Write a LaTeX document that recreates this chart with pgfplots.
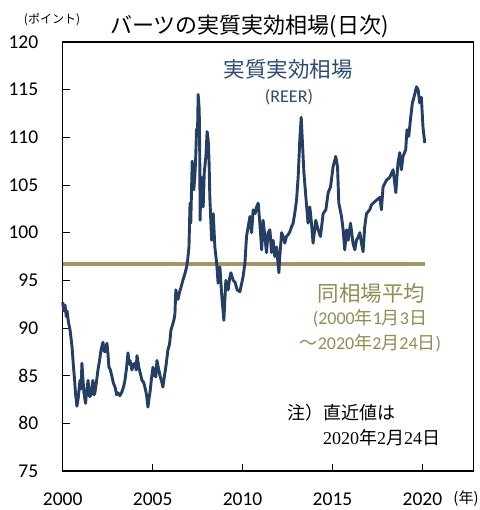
\documentclass[border=0pt]{standalone}
\usepackage{fontspec}
\setmainfont{Carlito}
\newfontfamily\jp{Noto Sans CJK JP}
\newfontfamily\serifnum{Liberation Serif}
\usepackage{pgfplots}
\pgfplotsset{compat=1.18}
\definecolor{navyline}{HTML}{243F63}
\definecolor{navytext}{HTML}{2E4A72}
\definecolor{oliveline}{HTML}{A0966A}
\definecolor{olivetext}{HTML}{948A54}
\newcommand{\fs}[1]{\fontsize{#1bp}{#1bp}\selectfont}
\newcommand{\J}[1]{{\jp #1}}
\begin{document}
\begin{tikzpicture}
\begin{axis}[
  scale only axis, width=411bp, height=429bp,
  xmin=2000, xmax=2022.85, ymin=75, ymax=120,
  xtick={2000,2005,2010,2015,2020},
  ytick={75,80,85,90,95,100,105,110,115,120},
  xtick pos=bottom, ytick pos=left, tick align=inside,
  major tick length=7bp,
  axis line style={line width=1.2bp},
  tick style={line width=1bp, black},
  /pgf/number format/assume math mode=true,
  /pgf/number format/1000 sep={},
  ticklabel style={font=\fs{19.5}},
  xticklabel style={anchor=center, yshift=-28bp},
  yticklabel style={anchor=east, xshift=-21bp},
  clip=false,
]
\addplot[oliveline, line width=3.5bp] coordinates {(2000,96.7) (2020.15,96.7)};
\addplot[navyline, line width=2.9bp, line join=round] coordinates {
(2000.00,92.7)(2000.06,91.8)(2000.13,92.4)(2000.20,91.2)(2000.24,91.8)(2000.32,90.6)(2000.41,89.8)(2000.52,88.0)(2000.60,85.9)(2000.66,84.6)(2000.71,83.2)(2000.79,81.8)(2000.86,82.6)(2000.96,84.5)(2001.02,83.6)(2001.07,86.3)(2001.12,84.8)(2001.18,83.2)(2001.27,82.1)(2001.34,83.4)(2001.41,84.5)(2001.50,82.8)(2001.57,83.0)(2001.68,84.5)(2001.74,83.0)(2001.79,83.2)(2001.88,84.4)(2001.96,85.6)(2002.05,86.6)(2002.13,87.7)(2002.24,88.5)(2002.30,87.6)(2002.35,87.5)(2002.46,88.4)(2002.52,87.2)(2002.57,85.9)(2002.65,85.6)(2002.74,84.9)(2002.82,84.2)(2002.91,83.8)(2003.00,83.0)(2003.07,83.2)(2003.18,82.9)(2003.29,83.3)(2003.38,83.8)(2003.46,84.5)(2003.55,85.8)(2003.63,87.4)(2003.69,86.2)(2003.74,86.6)(2003.85,85.6)(2003.93,86.2)(2004.02,86.3)(2004.08,85.6)(2004.13,87.1)(2004.19,86.4)(2004.24,85.8)(2004.32,85.2)(2004.41,84.5)(2004.50,84.3)(2004.57,83.8)(2004.66,83.0)(2004.74,81.7)(2004.80,82.6)(2004.85,83.2)(2004.93,84.6)(2005.02,85.9)(2005.10,85.0)(2005.18,84.9)(2005.24,86.6)(2005.32,85.8)(2005.41,85.0)(2005.50,84.4)(2005.57,83.8)(2005.66,85.0)(2005.74,86.0)(2005.85,87.7)(2005.94,88.3)(2006.02,89.8)(2006.12,90.4)(2006.20,91.0)(2006.24,91.5)(2006.29,94.0)(2006.35,93.4)(2006.41,93.0)(2006.50,93.8)(2006.60,94.4)(2006.68,95.0)(2006.78,95.6)(2006.89,96.4)(2006.95,97.2)(2007.02,98.5)(2007.08,103.1)(2007.12,101.0)(2007.20,107.5)(2007.29,104.5)(2007.35,106.0)(2007.39,107.6)(2007.44,110.8)(2007.50,111.0)(2007.53,114.5)(2007.59,112.9)(2007.62,108.0)(2007.64,101.3)(2007.68,105.5)(2007.72,105.8)(2007.81,102.7)(2007.87,106.3)(2007.96,108.0)(2008.03,110.6)(2008.09,109.7)(2008.14,107.3)(2008.18,103.7)(2008.28,99.2)(2008.37,102.0)(2008.46,98.5)(2008.56,96.8)(2008.64,94.7)(2008.74,96.4)(2008.83,93.7)(2008.96,90.8)(2009.07,95.0)(2009.20,94.0)(2009.28,95.2)(2009.35,95.8)(2009.48,95.0)(2009.58,94.8)(2009.70,94.0)(2009.85,93.8)(2009.94,94.6)(2010.03,95.4)(2010.13,96.8)(2010.22,99.6)(2010.31,100.6)(2010.41,101.7)(2010.50,100.0)(2010.59,102.4)(2010.70,102.0)(2010.78,102.7)(2010.87,103.1)(2010.96,101.0)(2011.06,98.2)(2011.14,101.3)(2011.24,99.6)(2011.33,97.9)(2011.42,100.0)(2011.52,100.3)(2011.61,97.9)(2011.70,99.2)(2011.79,97.5)(2011.89,98.5)(2012.02,95.8)(2012.07,97.5)(2012.17,100.0)(2012.26,99.6)(2012.35,98.9)(2012.44,99.6)(2012.54,99.8)(2012.63,100.1)(2012.72,100.6)(2012.81,101.0)(2012.90,102.0)(2013.00,103.4)(2013.09,105.8)(2013.18,109.7)(2013.26,112.1)(2013.33,109.4)(2013.41,106.3)(2013.52,103.7)(2013.64,101.0)(2013.74,102.7)(2013.83,101.0)(2013.92,98.9)(2014.07,101.3)(2014.20,100.3)(2014.33,99.6)(2014.48,102.0)(2014.63,102.4)(2014.76,104.2)(2014.89,104.8)(2015.03,106.9)(2015.18,108.0)(2015.28,106.9)(2015.35,103.1)(2015.50,101.7)(2015.59,100.3)(2015.68,98.2)(2015.78,100.3)(2015.87,99.2)(2016.00,101.0)(2016.14,98.9)(2016.24,98.2)(2016.33,99.2)(2016.42,99.5)(2016.52,100.0)(2016.61,98.9)(2016.70,98.0)(2016.79,100.6)(2016.89,102.0)(2017.07,102.4)(2017.16,102.9)(2017.26,103.1)(2017.44,103.4)(2017.63,103.7)(2017.72,102.4)(2017.81,104.8)(2018.00,105.5)(2018.18,105.8)(2018.37,106.6)(2018.52,104.2)(2018.64,107.3)(2018.74,108.4)(2018.83,106.6)(2018.92,108.0)(2019.07,108.7)(2019.14,110.8)(2019.24,110.1)(2019.33,111.8)(2019.44,113.6)(2019.53,114.2)(2019.67,115.3)(2019.76,115.0)(2019.85,113.6)(2019.94,114.2)(2020.03,111.1)(2020.13,109.4)
};
\end{axis}
% texts (positions in bp relative to axis south-west)
\node[anchor=west, inner sep=0pt, font=\jp\fs{22}] at (47.3bp,445bp) {バーツの実質実効相場(日次)};
\node[inner sep=0pt, font=\jp\fs{12}] at (-10.7bp,451bp) {(ポイント)};
\node[inner sep=0pt, font=\jp\fs{15}] at (403.3bp,-28bp) {(年)};
\node[inner sep=0pt, text=navytext, font=\jp\fs{21.5}] at (225.3bp,402bp) {実質実効相場};
\node[inner sep=0pt, text=navytext, font=\fs{18}] at (226.3bp,374bp) {(REER)};
\node[inner sep=0pt, text=olivetext, font=\jp\fs{21.5}] at (308.8bp,178bp) {同相場平均};
\node[inner sep=0pt, text=olivetext, font=\fs{18}] at (307.3bp,153bp) {(2000\J{年}1\J{月}3\J{日}};
\node[inner sep=0pt, text=olivetext, font=\fs{18}] at (307.8bp,128bp) {\J{～}2020\J{年}2\J{月}24\J{日})};
\node[anchor=west, inner sep=0pt, font=\jp\fs{18}] at (224.3bp,58bp) {注）直近値は};
\node[anchor=west, inner sep=0pt, font=\serifnum\fs{18}] at (260.3bp,33bp) {2020\J{年}2\J{月}24\J{日}};
\pgfresetboundingbox
\path[use as bounding box] (-62.7bp,-39bp) rectangle (417.3bp,471bp);
\end{tikzpicture}
\end{document}
